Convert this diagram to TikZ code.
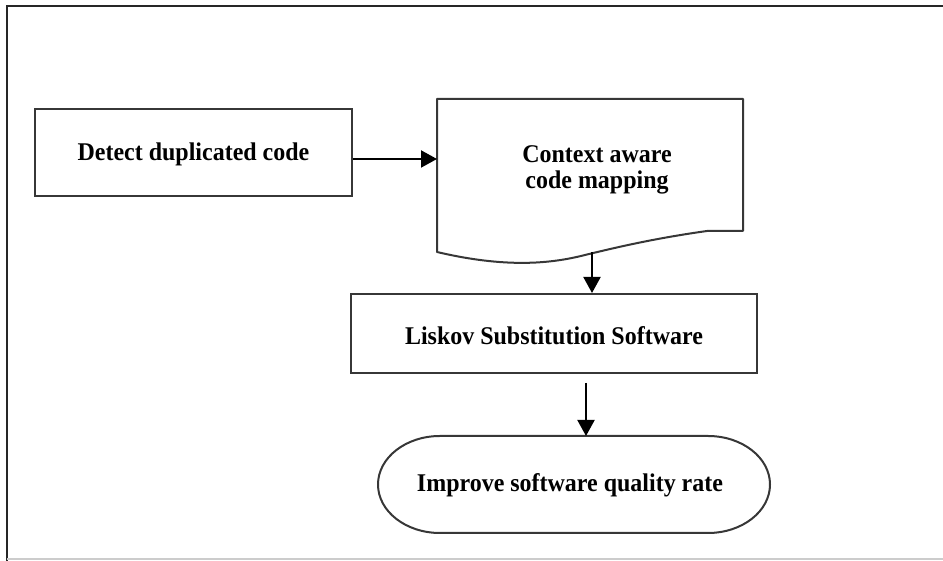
\documentclass[tikz,border=0pt]{standalone}
\usepackage{fontspec}
\setmainfont{Liberation Serif}
\newfontfamily\lblfont[FakeStretch=0.94]{Liberation Serif}
\usetikzlibrary{arrows.meta}
\definecolor{boxline}{RGB}{55,55,55}
\tikzset{
  boxshape/.style={draw=boxline, line width=2pt, minimum width=#1, inner sep=0pt},
  lbl/.style={font=\lblfont\fontsize{25.5}{26.5}\selectfont\bfseries, align=center, inner sep=0pt},
  flowarrow/.style={draw=black, line width=2pt, -{Triangle[length=16pt,width=17pt]}}
}
\begin{document}
\begin{tikzpicture}[x=1pt,y=1pt]
\useasboundingbox (0,0) rectangle (943,561);
% outer frame
\draw[line width=2pt, black!85] (943,555) -- (7,555) -- (7,0);
\draw[line width=1.5pt, black!20] (7,2) -- (943,2);

% detect box
\node[boxshape=317pt, minimum height=87pt] (detect) at (193.5,408.5) {};
\node[lbl] (detecttxt) at ([yshift=-2pt]detect.center) {Detect duplicated code};

% document shape
\draw[draw=boxline, line width=2pt, line join=round]
  (437,462) -- (743,462) -- (743,330) -- (707,330)
  .. controls (650,322) and (610,312) .. (585,306)
  .. controls (550,297) and (505,293) .. (437,309) -- cycle;
\coordinate (docwest) at (437,402);
\coordinate (docbottom) at (592,309);
\node[lbl] (doc) at (597,391) {Context aware\\code mapping};

% liskov box
\node[boxshape=406pt, minimum height=79pt] (liskov) at (554,227.5) {};
\node[lbl] (liskovtxt) at ([yshift=-2pt]liskov.center) {Liskov Substitution Software};

% oval
\draw[draw=boxline, line width=2pt]
  (440,125) -- (708,125) arc[start angle=90, end angle=-90, x radius=62pt, y radius=48.5pt]
  -- (440,28) arc[start angle=270, end angle=90, x radius=62pt, y radius=48.5pt] -- cycle;
\node[lbl] (goal) at (570,76) {Improve software quality rate};
\coordinate (goaltop) at (586,125);

% arrows
\draw[flowarrow] ([yshift=-6.5pt]detect.east) -- (docwest);
\draw[flowarrow] (docbottom) -- (docbottom |- liskov.north);
\draw[flowarrow] ([yshift=-9pt]liskov.south -| goaltop) -- (goaltop);
\end{tikzpicture}
\end{document}
